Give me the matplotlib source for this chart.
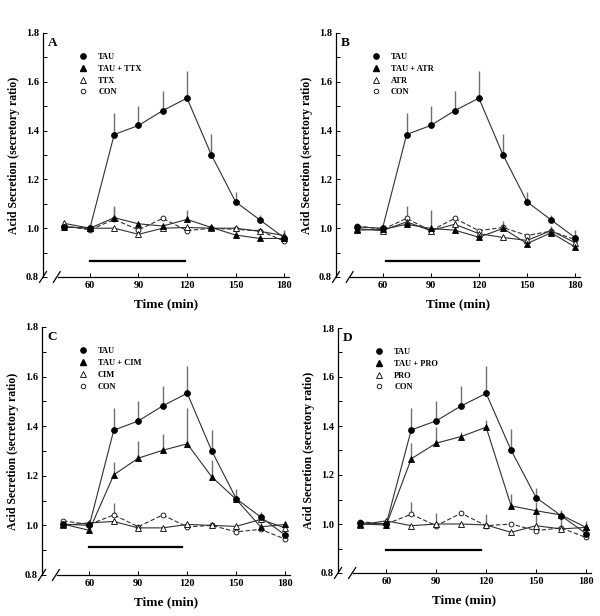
import numpy as np
import matplotlib
matplotlib.use("Agg")
import matplotlib.pyplot as plt
from matplotlib.lines import Line2D

plt.rcParams['font.family'] = ['Liberation Serif', 'DejaVu Serif']
plt.rcParams['font.weight'] = 'bold'

time = [44, 60, 75, 90, 105, 120, 135, 150, 165, 180]

tau = [1.005, 1.0, 1.384, 1.421, 1.482, 1.533, 1.301, 1.108, 1.034, 0.961]
tau_err = [0, 0, 0.09, 0.08, 0.08, 0.11, 0.085, 0.04, 0.022, 0.03]

# panel A
tau_ttx = [1.005, 1.0, 1.043, 1.018, 1.009, 1.036, 1.003, 0.972, 0.958, 0.958]
tau_ttx_err = [0, 0, 0.05, 0, 0, 0.04, 0, 0, 0, 0.03]
ttx = [1.02, 1.0, 1.0, 0.975, 1.0, 1.003, 1.0, 1.0, 0.987, 0.97]
ttx_err = [0, 0, 0, 0, 0, 0, 0, 0, 0, 0]
con_a = [1.01, 0.993, 1.036, 0.993, 1.04, 0.99, 1.0, 0.995, 0.99, 0.947]
con_a_err = [0, 0, 0.045, 0, 0, 0, 0, 0, 0, 0]

# panel B
tau_atr = [0.992, 0.995, 1.016, 0.999, 0.992, 0.963, 0.999, 0.937, 0.981, 0.923]
tau_atr_err = [0, 0, 0, 0.075, 0, 0, 0.03, 0, 0, 0]
atr = [0.998, 0.99, 1.026, 0.99, 1.016, 0.978, 0.962, 0.95, 0.99, 0.94]
atr_err = [0, 0, 0, 0, 0, 0, 0, 0, 0.02, 0]
con_b = [1.01, 0.995, 1.04, 0.99, 1.04, 0.99, 1.003, 0.97, 0.988, 0.953]
con_b_err = [0, 0, 0.05, 0, 0, 0, 0, 0, 0, 0]

# panel C
tau_cim = [1.005, 0.98, 1.204, 1.271, 1.303, 1.329, 1.196, 1.105, 0.994, 1.004]
tau_cim_err = [0, 0, 0.053, 0.07, 0.067, 0.143, 0.068, 0, 0.02, 0]
cim = [1.0, 1.01, 1.016, 0.99, 0.99, 1.004, 1.0, 0.996, 1.024, 0.99]
cim_err = [0, 0, 0, 0, 0, 0, 0, 0, 0, 0]
con_c = [1.018, 1.004, 1.042, 0.995, 1.042, 0.994, 1.0, 0.974, 0.984, 0.945]
con_c_err = [0, 0, 0.05, 0, 0, 0, 0, 0, 0, 0]

# panel D
tau_pro = [1.0, 0.996, 1.266, 1.33, 1.357, 1.395, 1.074, 1.054, 1.037, 0.986]
tau_pro_err = [0, 0, 0.065, 0.065, 0.018, 0.03, 0.05, 0.035, 0, 0.025]
pro = [0.996, 1.013, 0.993, 1.0, 1.0, 0.996, 0.966, 0.993, 0.98, 0.986]
pro_err = [0, 0, 0, 0, 0, 0.045, 0, 0.06, 0, 0]
con_d = [1.01, 1.0, 1.04, 0.993, 1.044, 0.993, 1.0, 0.973, 0.984, 0.945]
con_d_err = [0, 0, 0.05, 0.05, 0, 0, 0, 0, 0.035, 0]

panels = [
    ("A", "TTX", tau_ttx, tau_ttx_err, ttx, ttx_err, con_a, con_a_err, (60, 119, 0.865)),
    ("B", "ATR", tau_atr, tau_atr_err, atr, atr_err, con_b, con_b_err, (62, 120, 0.866)),
    ("C", "CIM", tau_cim, tau_cim_err, cim, cim_err, con_c, con_c_err, (60, 117, 0.911)),
    ("D", "PRO", tau_pro, tau_pro_err, pro, pro_err, con_d, con_d_err, (60, 117, 0.892)),
]

# axes rectangles in pixels: left, bottom, width, height
boxes = [(43, 339, 246, 244), (336, 339, 244, 244), (42, 41, 248, 248), (338, 43, 253, 245)]

W, H = 600, 616
fig = plt.figure(figsize=(W / 100, H / 100), dpi=100)

line_col = '#303030'
err_col = '#707070'


def draw_series(ax, y, err, marker, face, ls, size):
    lower = np.zeros(len(err))
    ax.errorbar(time, y, yerr=[lower, err], fmt='none', ecolor=err_col,
                elinewidth=1.0, capsize=0, zorder=1)
    ax.plot(time, y, color=line_col, lw=0.8, ls=ls, marker=marker, ms=size,
            mfc=face, mec='black', mew=0.6, zorder=2)


for (letter, drug, tdy, tde, dy, de, cy, ce, bar), box in zip(panels, boxes):
    l, b, w, h = box
    ax = fig.add_axes([l / W, b / H, w / W, h / H])
    draw_series(ax, cy, ce, 'o', 'white', (0, (4, 2)), 3.5)
    draw_series(ax, dy, de, '^', 'white', '-', 4)
    draw_series(ax, tdy, tde, '^', 'black', '-', 4.5)
    draw_series(ax, tau, tau_err, 'o', 'black', '-', 4.2)

    ax.plot([bar[0], bar[1]], [bar[2], bar[2]], color='black', lw=1.6)

    ax.set_xlim(31, 183)
    ax.set_ylim(0.8, 1.8)
    ax.spines['top'].set_visible(False)
    ax.spines['right'].set_visible(False)
    ax.spines['bottom'].set_bounds(40, 183)
    ax.spines['left'].set_linewidth(0.9)
    ax.spines['bottom'].set_linewidth(0.9)

    ax.set_xticks([60, 90, 120, 150, 180])
    ax.set_yticks([0.8, 1.0, 1.2, 1.4, 1.6, 1.8])
    ax.set_yticks(np.arange(0.9, 1.8, 0.2), minor=True)
    ax.set_yticklabels(['%.1f' % v for v in [0.8, 1.0, 1.2, 1.4, 1.6, 1.8]])
    ax.tick_params(direction='in', length=3, width=0.7, labelsize=7.5, pad=3)
    ax.tick_params(which='minor', direction='in', length=3, width=0.7)

    # axis break marks
    for x0 in [0.0, 0.056]:
        ax.plot([x0 - 0.014, x0 + 0.014], [-0.022, 0.022], transform=ax.transAxes,
                color='black', lw=0.9, clip_on=False)

    ax.set_xlabel('Time (min)', fontsize=9.5, fontweight='bold', labelpad=6)
    ax.set_ylabel('Acid Secretion (secretory ratio)', fontsize=8.5,
                  fontweight='bold', labelpad=4)
    ax.text(0.02, 0.985, letter, transform=ax.transAxes, fontsize=9.5,
            fontweight='bold', va='top', ha='left')

    handles = [
        Line2D([], [], ls='none', marker='o', ms=3.8, mfc='black', mec='black'),
        Line2D([], [], ls='none', marker='^', ms=4, mfc='black', mec='black'),
        Line2D([], [], ls='none', marker='^', ms=3.8, mfc='white', mec='black', mew=0.6),
        Line2D([], [], ls='none', marker='o', ms=3.3, mfc='white', mec='black', mew=0.6),
    ]
    labels = ['TAU', 'TAU + ' + drug, drug, 'CON']
    ax.legend(handles, labels, loc='upper left', bbox_to_anchor=(0.13, 0.935),
              frameon=False, fontsize=6, handlelength=1.0, handletextpad=1.3,
              labelspacing=0.45, borderpad=0)

fig.savefig('out.png', dpi=100)
